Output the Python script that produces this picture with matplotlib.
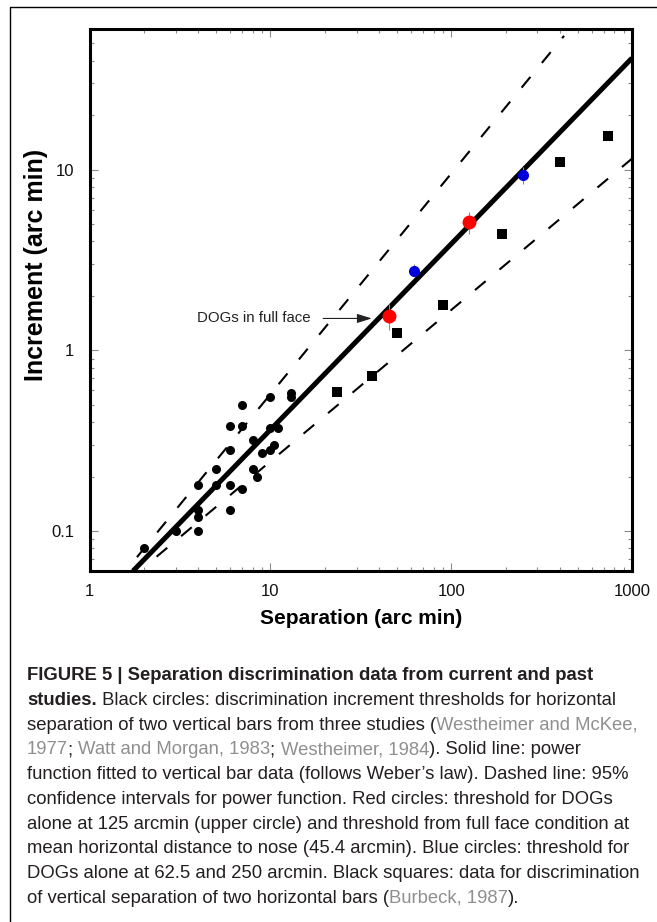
import matplotlib
matplotlib.use('Agg')
import matplotlib.pyplot as plt
import numpy as np
from matplotlib import font_manager
from matplotlib.lines import Line2D
from matplotlib.ticker import FixedLocator, FixedFormatter, LogLocator, NullFormatter

# --- data ---------------------------------------------------------------
# black circles: horizontal separation of two vertical bars
bar_sep = [2, 3, 4, 4, 4, 4, 5, 5, 6, 6, 6, 6, 7, 7, 7, 8, 8, 8.4, 9, 10,
           10.5, 10, 11, 10, 13, 13]
bar_inc = [0.08, 0.1, 0.1, 0.12, 0.13, 0.18, 0.22, 0.18, 0.18, 0.13, 0.28,
           0.38, 0.38, 0.5, 0.17, 0.32, 0.22, 0.2, 0.27, 0.28, 0.3, 0.37,
           0.37, 0.55, 0.58, 0.55]

# black squares: vertical separation of two horizontal bars (Burbeck 1987)
hbar_sep = [23.3, 36.7, 50, 90, 190, 400, 740]
hbar_inc = [0.59, 0.72, 1.24, 1.77, 4.38, 11.0, 15.4]

# red circles: DOGs full face (45.4) and DOGs alone (125)
red_sep = [45.4, 125]
red_inc = [1.55, 5.1]
red_lo = [1.29, 4.42]
red_hi = [1.80, 5.85]

# blue circles: DOGs alone at 62.5 and 250
blue_sep = [62.5, 250]
blue_inc = [2.75, 9.3]
blue_lo = [2.57, 8.3]
blue_hi = [3.02, 10.4]

# power function fit and 95% confidence lines (end points)
fit_x = [1.74, 1000]
fit_y = [0.06, 41.4]
upper_x = [1.83, 421]
upper_y = [0.0716, 55]
lower_x = [2.35, 1000]
lower_y = [0.072, 11.5]

x_ticks = [1, 10, 100, 1000]
x_labels = ['1', '10', '100', '1000']
y_ticks = [0.1, 1, 10]
y_labels = ['0.1', '1', '10']

W, H = 657, 922
plt.rcParams['font.family'] = ['Liberation Sans', 'DejaVu Sans']
plt.rcParams['lines.scale_dashes'] = False

fig = plt.figure(figsize=(W / 100, H / 100), dpi=100)
ax = fig.add_axes([89.5 / W, 1 - 571 / H, 542.5 / W, 542 / H])

ax.plot(fit_x, fit_y, color='black', lw=3.6, solid_capstyle='butt', zorder=2)
ax.plot(upper_x, upper_y, color='black', lw=1.5, dashes=(10, 13), zorder=2)
ax.plot(lower_x, lower_y, color='black', lw=1.5, dashes=(10, 13), zorder=2)

ax.plot(bar_sep, bar_inc, 'o', color='black', ms=6.5, mew=0, zorder=3)
ax.plot(hbar_sep, hbar_inc, 's', color='black', ms=6.8, mew=0, zorder=3)

red_err = [np.subtract(red_inc, red_lo), np.subtract(red_hi, red_inc)]
blue_err = [np.subtract(blue_inc, blue_lo), np.subtract(blue_hi, blue_inc)]
ax.errorbar(red_sep, red_inc, yerr=red_err, fmt='o', color='#ff0000', ms=10,
            mew=0, ecolor='#8c8c8c', elinewidth=0.8, capsize=2.5, capthick=0.8, zorder=4)
ax.errorbar(blue_sep, blue_inc, yerr=blue_err, fmt='o', color='#0000dd', ms=8,
            mew=0, ecolor='#8c8c8c', elinewidth=0.8, capsize=2.5, capthick=0.8, zorder=4)

ax.text(16.8, 1.5, 'DOGs in full face', ha='right', va='center', fontsize=10.8, color='#222222')
ax.annotate('', xy=(36.4, 1.5), xytext=(19.6, 1.5),
            arrowprops=dict(arrowstyle='-|>,head_length=0.9,head_width=0.28',
                            color='#222222', lw=0.8, shrinkA=0, shrinkB=0))

ax.set_xscale('log')
ax.set_yscale('log')
ax.set_xlim(1, 1000)
ax.set_ylim(0.06, 60)
ax.xaxis.set_major_locator(FixedLocator(x_ticks))
ax.xaxis.set_major_formatter(FixedFormatter(x_labels))
ax.yaxis.set_major_locator(FixedLocator(y_ticks))
ax.yaxis.set_major_formatter(FixedFormatter(y_labels))
ax.xaxis.set_minor_locator(LogLocator(base=10, subs=np.arange(2, 10)))
ax.yaxis.set_minor_locator(LogLocator(base=10, subs=np.arange(2, 10)))
ax.xaxis.set_minor_formatter(NullFormatter())
ax.yaxis.set_minor_formatter(NullFormatter())
ax.tick_params(which='both', direction='in', top=True, right=True,
               color='#8a8a8a', width=0.8, labelsize=12, labelcolor='#111111')
ax.tick_params(which='major', length=6)
ax.tick_params(which='minor', length=3)
ax.tick_params(axis='x', pad=9)
ax.tick_params(axis='y', pad=11)
for sp in ax.spines.values():
    sp.set_linewidth(2.2)

ax.set_xlabel('Separation (arc min)', fontsize=15, fontweight='bold')
ax.xaxis.label.set_va('center')
ax.xaxis.set_label_coords(0.5, (571 - 618) / 542)
ax.set_ylabel('Increment (arc min)', fontsize=18, fontweight='bold')
ax.yaxis.label.set_va('center')
ax.yaxis.set_label_coords((36 - 89.5) / 542.5, (571 - 265) / 542)

# page frame
fig.add_artist(Line2D([9.5 / W, 9.5 / W, 1.0], [0.0, 1 - 7 / H, 1 - 7 / H],
                      transform=fig.transFigure, color='black', lw=1.0))

# --- caption ---------------------------------------------------------------
caption_lines = [
    [("FIGURE 5 | Separation discrimination data from current and past", "b")],
    [("studies.", "b"), (" Black circles: discrimination increment thresholds for horizontal", "n")],
    [("separation of two vertical bars from three studies (", "n"), ("Westheimer and McKee,", "g")],
    [("1977", "g"), ("; ", "n"), ("Watt and Morgan, 1983", "g"), ("; ", "n"),
     ("Westheimer, 1984", "g"), ("). Solid line: power", "n")],
    [("function fitted to vertical bar data (follows Weber\u2019s law). Dashed line: 95%", "n")],
    [("confidence intervals for power function. Red circles: threshold for DOGs", "n")],
    [("alone at 125 arcmin (upper circle) and threshold from full face condition at", "n")],
    [("mean horizontal distance to nose (45.4 arcmin). Blue circles: threshold for", "n")],
    [("DOGs alone at 62.5 and 250 arcmin. Black squares: data for discrimination", "n")],
    [("of vertical separation of two horizontal bars (", "n"), ("Burbeck, 1987", "g"), (").", "n")],
]


def pick_family():
    for fam in ['Liberation Sans Narrow', 'Liberation Sans']:
        try:
            font_manager.findfont(font_manager.FontProperties(family=fam),
                                  fallback_to_default=False)
            return fam
        except ValueError:
            pass
    return 'DejaVu Sans'


fam = pick_family()
renderer = fig.canvas.get_renderer()


def text_w(s, prop):
    return renderer.get_text_width_height_descent(s, prop, ismath=False)[0]


def adv(s, prop):
    return text_w(s + 'x', prop) - text_w('x', prop)


# size the caption fonts so that the reference line widths are met
probe_n = font_manager.FontProperties(family=fam, size=10)
probe_b = font_manager.FontProperties(family=fam, size=10, weight='bold')
size_n = 10 * 616 / text_w("separation of two vertical bars from three studies (Westheimer and McKee,", probe_n)
size_b = 10 * 568 / text_w("FIGURE 5 | Separation discrimination data from current and past", probe_b)
props = {
    'n': font_manager.FontProperties(family=fam, size=size_n),
    'g': font_manager.FontProperties(family=fam, size=size_n),
    'b': font_manager.FontProperties(family=fam, size=size_b, weight='bold'),
}
colors = {'n': '#231f20', 'g': '#8f8f8f', 'b': '#231f20'}

x0 = 27
for i, line in enumerate(caption_lines):
    base = 680 + 24.75 * i
    x = x0
    for txt, st in line:
        fig.text(x / W, 1 - base / H, txt, fontproperties=props[st], color=colors[st],
                 ha='left', va='baseline')
        x += adv(txt, props[st])

fig.savefig('out.png', dpi=100)
